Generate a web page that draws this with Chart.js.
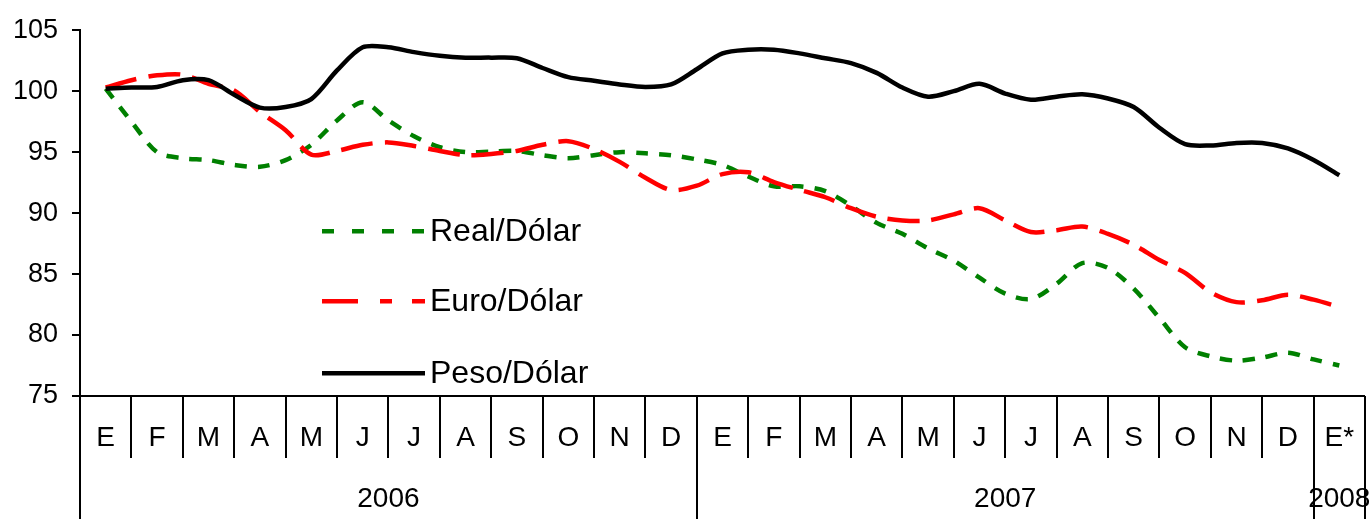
<!DOCTYPE html>
<html>
<head>
<meta charset="utf-8">
<script src="https://cdn.jsdelivr.net/npm/chart.js@4.4.1/dist/chart.umd.min.js"></script>
<style>
    html, body { margin: 0; padding: 0; background: #fff; }
    #wrap { position: relative; width: 1369px; height: 519px; }
</style>
</head>
<body>
<div id="wrap"><canvas id="fxChart"></canvas></div>
<script>
// =========================================
// DATA
// =========================================
var months = ['E','F','M','A','M','J','J','A','S','O','N','D','E','F','M','A','M','J','J','A','S','O','N','D','E*'];
var years = [
    { label: '2006', from: 0, to: 12 },
    { label: '2007', from: 12, to: 24 },
    { label: '2008', from: 24, to: 25 }
];

// position in months from start of Jan 2006 (semi-monthly readings)
var xPos = [0.5, 1, 1.5, 2, 2.5, 3, 3.5, 4, 4.5, 5, 5.5, 6, 6.5, 7, 7.5, 8, 8.5, 9, 9.5, 10,
    10.5, 11, 11.5, 12, 12.5, 13, 13.5, 14, 14.5, 15, 15.5, 16, 16.5, 17, 17.5, 18, 18.5, 19, 19.5, 20,
    20.5, 21, 21.5, 22, 22.5, 23, 23.5, 24, 24.5];

var realDolar = [100.2, 97.5, 95.0, 94.5, 94.35, 93.95, 93.8, 94.35, 95.6, 97.6, 99.1, 97.6, 96.3, 95.4, 95.0, 95.05, 95.1, 94.75, 94.5, 94.75,
    95.0, 94.9, 94.75, 94.4, 93.95, 93.0, 92.2, 92.2, 91.8, 90.6, 89.2, 88.3, 87.1, 86.1, 84.7, 83.4, 82.95, 84.2, 85.9, 85.5,
    83.8, 81.4, 79.0, 78.25, 77.9, 78.15, 78.55, 78.0, 77.5];

var euroDolar = [100.3, 100.9, 101.3, 101.35, 100.6, 100.05, 98.3, 96.8, 94.8, 95.1, 95.6, 95.8, 95.5, 95.1, 94.75, 94.85, 95.1, 95.6, 95.9, 95.25,
    94.2, 92.9, 91.9, 92.25, 93.2, 93.35, 92.55, 91.9, 91.3, 90.4, 89.7, 89.4, 89.4, 89.9, 90.4, 89.4, 88.45, 88.6, 88.9, 88.3,
    87.4, 86.15, 85.1, 83.5, 82.7, 82.85, 83.3, 82.9, 82.3];

var pesoDolar = [100.2, 100.3, 100.35, 100.9, 100.9, 99.7, 98.65, 98.7, 99.35, 101.7, 103.6, 103.6, 103.2, 102.9, 102.75, 102.75, 102.7, 101.9, 101.15, 100.85,
    100.55, 100.35, 100.55, 101.8, 103.1, 103.4, 103.4, 103.1, 102.7, 102.3, 101.5, 100.3, 99.55, 100.0, 100.6, 99.8, 99.3, 99.55, 99.75, 99.4,
    98.7, 97.0, 95.65, 95.55, 95.75, 95.75, 95.3, 94.35, 93.1];

var yTicks = [75, 80, 85, 90, 95, 100, 105];

(function() {
    'use strict';

    var FONT = '"Liberation Sans", Arial, sans-serif';

    function toPoints(values) {
        return values.map(function(v, i) { return { x: xPos[i], y: v }; });
    }

    // =========================================
    // CATEGORY AXIS (months + years) UNDER THE PLOT
    // =========================================
    var monthAxis = {
        id: 'monthAxis',
        afterDraw: function(chart) {
            var ctx = chart.ctx;
            var xs = chart.scales.x;
            var area = chart.chartArea;
            var bottom = area.bottom;
            var full = chart.height;

            ctx.save();
            ctx.strokeStyle = '#000';
            ctx.lineWidth = 2;

            ctx.beginPath();
            ctx.moveTo(xs.getPixelForValue(0), bottom);
            ctx.lineTo(xs.getPixelForValue(months.length), bottom);
            ctx.stroke();

            for (var i = 0; i <= months.length; i++) {
                var px = Math.round(xs.getPixelForValue(i));
                var isYear = (i === 0 || i === months.length);
                years.forEach(function(y) { if (y.from === i) isYear = true; });
                ctx.beginPath();
                ctx.moveTo(px, bottom);
                ctx.lineTo(px, isYear ? full : bottom + 62);
                ctx.stroke();
            }

            ctx.fillStyle = '#000';
            ctx.textAlign = 'center';
            ctx.textBaseline = 'middle';
            ctx.font = '28px ' + FONT;
            months.forEach(function(m, i) {
                ctx.fillText(m, xs.getPixelForValue(i + 0.5), bottom + 42);
            });
            years.forEach(function(y) {
                ctx.fillText(y.label, xs.getPixelForValue((y.from + y.to) / 2), bottom + 103);
            });
            ctx.restore();
        }
    };

    // =========================================
    // LEGEND INSIDE THE PLOT
    // =========================================
    var innerLegend = {
        id: 'innerLegend',
        afterDraw: function(chart) {
            var ctx = chart.ctx;
            var area = chart.chartArea;
            var x0 = area.left + 242;
            var rows = [201, 271, 343];
            var legendDash = [[12, 18], [36, 22, 12, 20], []];

            ctx.save();
            chart.data.datasets.forEach(function(ds, i) {
                var y = area.top + rows[i];
                ctx.strokeStyle = ds.borderColor;
                ctx.lineWidth = ds.borderWidth;
                ctx.setLineDash(legendDash[i]);
                ctx.beginPath();
                ctx.moveTo(x0, y);
                ctx.lineTo(x0 + 103, y);
                ctx.stroke();

                ctx.setLineDash([]);
                ctx.fillStyle = '#000';
                ctx.textAlign = 'left';
                ctx.textBaseline = 'middle';
                ctx.font = '32px ' + FONT;
                ctx.fillText(ds.label, x0 + 108, y + 1);
            });
            ctx.restore();
        }
    };

    new Chart(document.getElementById('fxChart'), {
        type: 'line',
        data: {
            datasets: [{
                label: 'Real/Dólar',
                data: toPoints(realDolar),
                borderColor: '#008000',
                borderWidth: 4.5,
                borderDash: [12, 11],
                tension: 0.3,
                pointRadius: 0,
                order: 2
            }, {
                label: 'Euro/Dólar',
                data: toPoints(euroDolar),
                borderColor: '#ff0000',
                borderWidth: 4.5,
                borderDash: [32, 12],
                tension: 0.3,
                pointRadius: 0,
                order: 1
            }, {
                label: 'Peso/Dólar',
                data: toPoints(pesoDolar),
                borderColor: '#000000',
                borderWidth: 4.5,
                tension: 0.3,
                pointRadius: 0,
                order: 0
            }]
        },
        options: {
            responsive: true,
            maintainAspectRatio: false,
            animation: false,
            layout: { padding: { top: 22, right: 4, bottom: 123, left: 0 } },
            plugins: {
                legend: { display: false },
                tooltip: { enabled: false }
            },
            scales: {
                x: {
                    type: 'linear',
                    min: 0,
                    max: months.length,
                    display: false
                },
                y: {
                    min: yTicks[0],
                    max: yTicks[yTicks.length - 1],
                    afterBuildTicks: function(scale) {
                        scale.ticks = yTicks.map(function(v) { return { value: v }; });
                    },
                    afterFit: function(scale) { scale.width = 80; },
                    ticks: {
                        color: '#000',
                        padding: 14,
                        font: { family: FONT, size: 27 }
                    },
                    grid: {
                        drawOnChartArea: false,
                        color: '#000',
                        lineWidth: 2,
                        tickLength: 8
                    },
                    border: { color: '#000', width: 2 }
                }
            }
        },
        plugins: [monthAxis, innerLegend]
    });
})();
</script>
</body>
</html>
